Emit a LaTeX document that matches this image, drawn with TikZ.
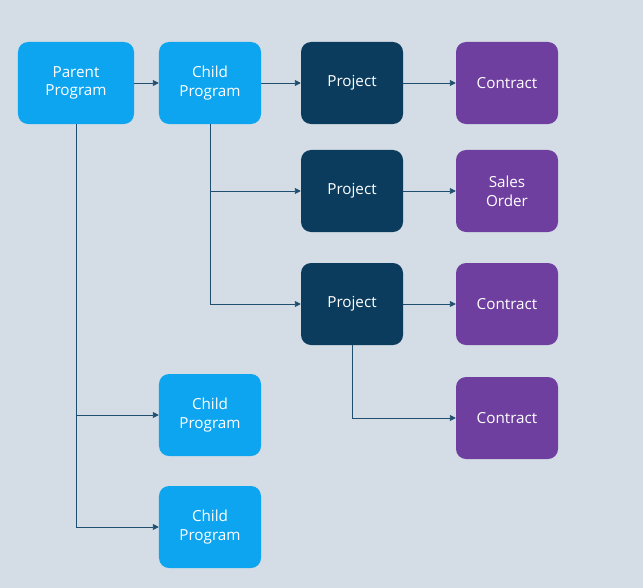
\documentclass[tikz,border=0pt]{standalone}
\usepackage{fontspec}
\setmainfont{Open Sans}
\usetikzlibrary{arrows.meta}
\definecolor{bgcol}{HTML}{D4DDE6}
\definecolor{progcol}{HTML}{0EA5F0}
\definecolor{projcol}{HTML}{0B3C5D}
\definecolor{contcol}{HTML}{6F3FA0}
\definecolor{linecol}{HTML}{1F4E6E}
\tikzset{
  box/.style={rounded corners=0.3cm, minimum width=3.06cm, minimum height=2.46cm,
    text=white, align=center, font=\fontsize{13}{16}\selectfont, inner sep=0pt},
  prog/.style={box, fill=progcol},
  proj/.style={box, fill=projcol},
  cont/.style={box, fill=contcol},
  link/.style={draw=linecol, line width=0.6pt, -{Triangle[length=5pt,width=5pt]}}
}
\begin{document}
\begin{tikzpicture}[x=0.03cm, y=-0.03cm]

% background
\fill[bgcol] (0,0) rectangle (643,588);

% programs
\node[prog, minimum width=3.48cm] (parent) at (76,83) {Parent\\Program};
\node[prog] (child1) at (210,83) {Child\\Program};
\node[prog] (child2) at (210,415) {Child\\Program};
\node[prog] (child3) at (210,527) {Child\\Program};

% projects
\node[proj] (proj1) at (352,83) {Project};
\node[proj] (proj2) at (352,191) {Project};
\node[proj] (proj3) at (352,304) {Project};

% contracts and orders
\node[cont] (cont1) at (507,83) {Contract};
\node[cont] (order) at (507,191) {Sales\\Order};
\node[cont] (cont2) at (507,304) {Contract};
\node[cont] (cont3) at (507,418) {Contract};

% connectors
\draw[link] (parent) -- (child1);
\draw[link] (child1) -- (proj1);
\draw[link] (proj1) -- (cont1);
\draw[link] (proj2) -- (order);
\draw[link] (proj3) -- (cont2);
\draw[link] (parent.south) |- (child2.west);
\draw[link] (parent.south) |- (child3.west);
\draw[link] (child1.south) |- (proj2.west);
\draw[link] (child1.south) |- (proj3.west);
\draw[link] (proj3.south) |- (cont3.west);

\end{tikzpicture}
\end{document}
